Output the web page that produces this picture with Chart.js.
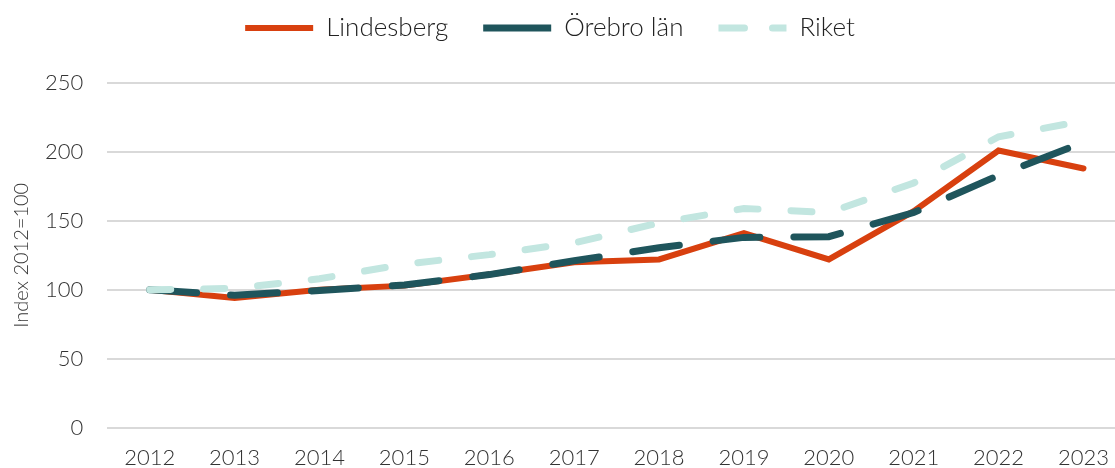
<!DOCTYPE html>
<html>
<head>
<meta charset="utf-8">
<script src="https://cdn.jsdelivr.net/npm/chart.js@4/dist/chart.umd.min.js"></script>
<style>
  html, body { margin: 0; padding: 0; background: #fff; overflow: hidden; }
  #wrap { width: 1126px; height: 468px; }
</style>
</head>
<body>
<div id="wrap"><canvas id="chart" width="1126" height="468"></canvas></div>
<script>
// Data
const years = ['2012', '2013', '2014', '2015', '2016', '2017', '2018', '2019', '2020', '2021', '2022', '2023'];
const lindesberg = [100, 94, 100, 103, 111, 120, 122, 141, 122, 157, 201, 188];
const orebroLan = [100, 96, 99.5, 103.5, 111, 121, 130.5, 138, 138.5, 156, 183, 207];
const riket = [100, 101, 108, 118.5, 125.5, 134, 148.5, 159, 156, 177.5, 211, 222.5];

const tickFont = { family: 'Lato', size: 22, weight: '300' };

// legend höjd + lite förskjutning åt vänster
const legendSpace = {
  id: 'legendSpace',
  beforeInit(chart) {
    const fitOrig = chart.legend.fit;
    chart.legend.fit = function () {
      fitOrig.bind(chart.legend)();
      this.height = 103;
    };
  },
  afterLayout(chart) {
    chart.legend.left -= 15;
    chart.legend.right -= 15;
  }
};

new Chart(document.getElementById('chart'), {
  type: 'line',
  data: {
    labels: years,
    datasets: [
      {
        label: 'Lindesberg',
        data: lindesberg,
        order: 3,
        borderColor: '#d8400f',
        backgroundColor: '#d8400f',
        borderWidth: 6,
        borderCapStyle: 'round',
        borderJoinStyle: 'miter',
        pointRadius: 0,
        tension: 0
      },
      {
        label: 'Örebro län',
        data: orebroLan,
        order: 2,
        borderColor: '#1f555c',
        backgroundColor: '#1f555c',
        borderWidth: 7,
        borderCapStyle: 'round',
        borderDash: [47, 34],
        pointRadius: 0,
        tension: 0
      },
      {
        label: 'Riket',
        data: riket,
        order: 1,
        borderColor: '#c2e6e0',
        backgroundColor: '#c2e6e0',
        borderWidth: 7,
        borderCapStyle: 'round',
        borderDash: [21, 33],
        pointRadius: 0,
        tension: 0
      }
    ]
  },
  plugins: [legendSpace],
  options: {
    responsive: false,
    animation: false,
    layout: { padding: { top: -20, right: 0, bottom: -20, left: 4 } },
    plugins: {
      legend: {
        position: 'top',
        labels: {
          font: { family: 'Lato', size: 26, weight: '300' },
          color: '#222',
          boxWidth: 68,
          boxHeight: 0,
          padding: 35,
          sort: (a, b) => a.datasetIndex - b.datasetIndex,
          generateLabels: function (chart) {
            const items = Chart.defaults.plugins.legend.labels.generateLabels(chart);
            items.forEach(function (it) {
              it.lineCap = 'round';
              it.lineDash = it.datasetIndex === 2 ? [26, 30] : [];
            });
            return items;
          }
        }
      },
      tooltip: { enabled: false }
    },
    scales: {
      x: {
        offset: true,
        grid: { display: false, drawTicks: false },
        border: { display: false },
        ticks: { font: tickFont, color: '#333', padding: 17, maxRotation: 0 }
      },
      y: {
        min: 0,
        max: 250,
        ticks: { stepSize: 50, font: tickFont, color: '#333', padding: 24 },
        grid: { color: '#d9d9d9', lineWidth: 2, drawTicks: false },
        border: { display: false },
        title: {
          display: true,
          text: 'Index 2012=100',
          font: { family: 'Lato', size: 20, weight: '300' },
          color: '#333',
          padding: { top: 6, bottom: -13 }
        }
      }
    }
  }
});
</script>
</body>
</html>
